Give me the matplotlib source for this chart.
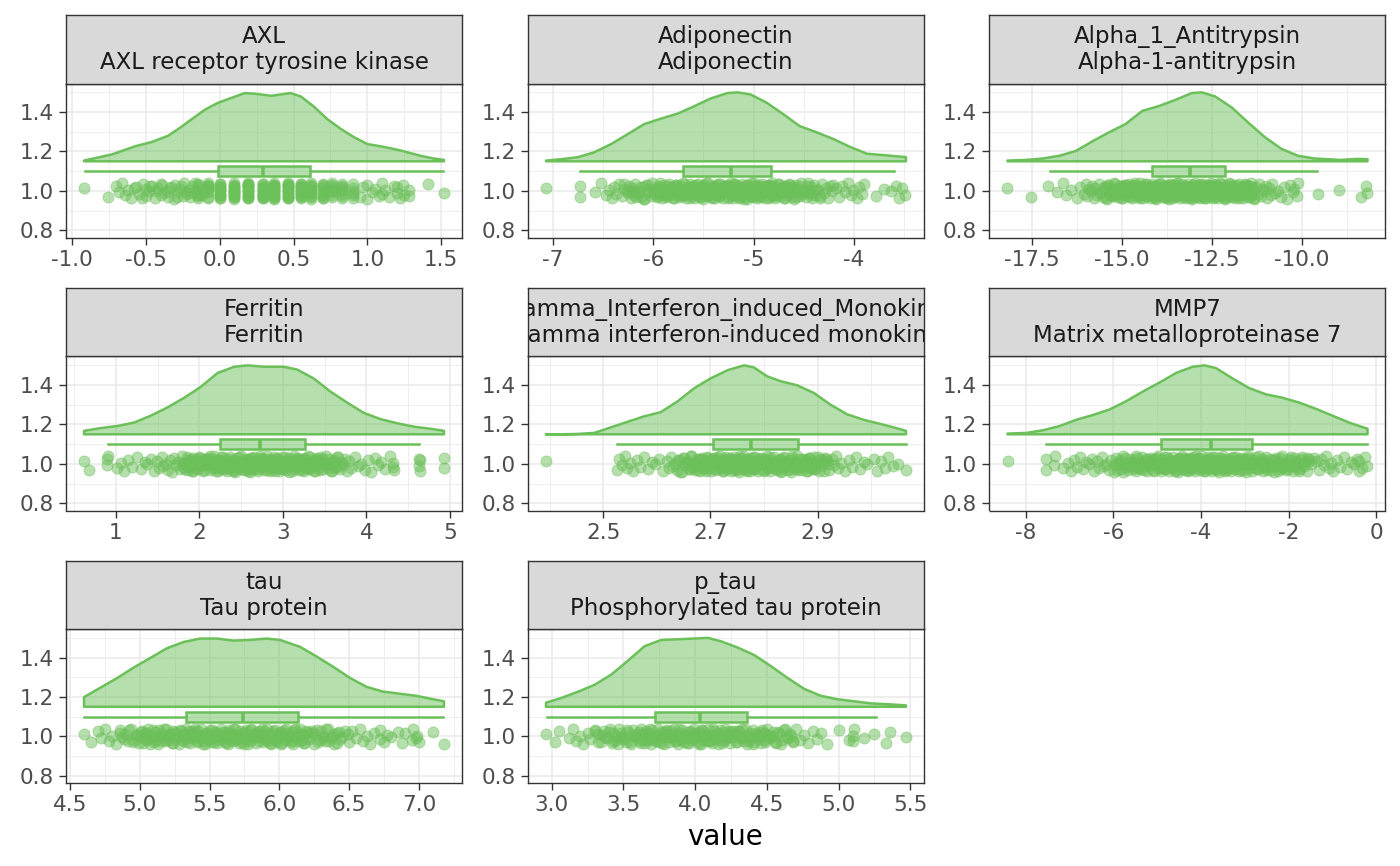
import matplotlib
matplotlib.use("Agg")
import matplotlib.pyplot as plt
from matplotlib.ticker import FixedLocator

plt.rcParams['font.family'] = ['DejaVu Sans']
plt.rcParams['axes.unicode_minus'] = False

# ---------------- data ----------------
TITLES = ["AXL", "Adiponectin", "Alpha_1_Antitrypsin", "Ferritin",
          "Gamma_Interferon_induced_Monokine", "MMP7", "tau", "p_tau"]
SUBTITLES = ["AXL receptor tyrosine kinase", "Adiponectin", "Alpha-1-antitrypsin",
             "Ferritin", "Gamma interferon-induced monokine",
             "Matrix metalloproteinase 7", "Tau protein", "Phosphorylated tau protein"]

# scaled density (0-1) of each half-violin
DENS_X_AXL = [-0.92, -0.73, -0.57, -0.46, -0.35, -0.28, -0.19, -0.10, -0.01, 0.08, 0.17, 0.24,
              0.35, 0.48, 0.55, 0.64, 0.73, 0.82, 0.91, 1.00, 1.11, 1.22, 1.36, 1.45, 1.52]
DENS_H_AXL = [0.01, 0.10, 0.22, 0.28, 0.37, 0.47, 0.61, 0.75, 0.85, 0.92, 0.99, 0.98,
              0.95, 0.99, 0.94, 0.79, 0.61, 0.47, 0.35, 0.25, 0.21, 0.16, 0.08, 0.04, 0.02]
DENS_X_ADIPO = [-7.07, -6.92, -6.75, -6.59, -6.42, -6.26, -6.09, -5.92, -5.76, -5.59, -5.43, -5.26,
                -5.16, -5.03, -4.87, -4.70, -4.54, -4.37, -4.20, -4.04, -3.87, -3.71, -3.48]
DENS_H_ADIPO = [0.01, 0.03, 0.06, 0.13, 0.25, 0.39, 0.54, 0.62, 0.69, 0.80, 0.91, 0.99,
                1.00, 0.97, 0.85, 0.68, 0.51, 0.42, 0.32, 0.21, 0.11, 0.09, 0.06]
DENS_X_A1AT = [-18.17, -17.65, -17.19, -16.73, -16.27, -15.81, -15.35, -14.89, -14.43, -13.97, -13.51,
               -13.05, -12.77, -12.40, -11.94, -11.48, -11.02, -10.56, -10.10, -9.64, -8.91, -8.45, -8.17]
DENS_H_A1AT = [0.01, 0.02, 0.04, 0.08, 0.15, 0.29, 0.42, 0.54, 0.73, 0.80, 0.89,
               0.99, 1.00, 0.94, 0.78, 0.56, 0.35, 0.18, 0.08, 0.04, 0.02, 0.035, 0.03]
DENS_X_FERR = [0.62, 0.82, 1.02, 1.22, 1.42, 1.62, 1.82, 2.02, 2.22, 2.42, 2.58, 2.77,
               3.01, 3.17, 3.37, 3.57, 3.77, 3.97, 4.17, 4.37, 4.57, 4.77, 4.93]
DENS_H_FERR = [0.05, 0.09, 0.12, 0.17, 0.27, 0.39, 0.53, 0.69, 0.89, 0.98, 1.00, 0.98,
               0.98, 0.94, 0.81, 0.62, 0.46, 0.31, 0.22, 0.16, 0.11, 0.08, 0.05]
DENS_X_MIG = [2.393, 2.421, 2.452, 2.483, 2.514, 2.545, 2.576, 2.607, 2.639, 2.670, 2.700, 2.732,
              2.763, 2.781, 2.806, 2.831, 2.862, 2.893, 2.924, 2.955, 2.986, 3.017, 3.042, 3.065]
DENS_H_MIG = [0.0, 0.0, 0.005, 0.02, 0.10, 0.18, 0.26, 0.32, 0.48, 0.67, 0.81, 0.93,
              1.00, 0.97, 0.84, 0.77, 0.71, 0.60, 0.43, 0.29, 0.21, 0.15, 0.10, 0.05]
DENS_X_MMP7 = [-8.42, -7.98, -7.60, -7.23, -6.85, -6.47, -6.09, -5.71, -5.33, -4.95, -4.57, -4.19,
               -3.92, -3.66, -3.28, -2.90, -2.52, -2.14, -1.76, -1.38, -1.00, -0.62, -0.20]
DENS_H_MMP7 = [0.01, 0.02, 0.06, 0.12, 0.21, 0.28, 0.36, 0.48, 0.62, 0.75, 0.89, 0.98,
               1.00, 0.96, 0.81, 0.67, 0.58, 0.53, 0.46, 0.37, 0.27, 0.17, 0.08]
DENS_X_TAU = [4.60, 4.72, 4.84, 4.957, 5.076, 5.195, 5.314, 5.433, 5.552, 5.671, 5.79, 5.91,
              6.005, 6.148, 6.267, 6.386, 6.505, 6.624, 6.743, 6.862, 6.98, 7.10, 7.18]
DENS_H_TAU = [0.14, 0.28, 0.42, 0.57, 0.71, 0.85, 0.94, 0.99, 0.99, 0.96, 0.97, 0.99,
              0.97, 0.87, 0.73, 0.58, 0.42, 0.29, 0.22, 0.19, 0.16, 0.11, 0.08]
DENS_X_PTAU = [2.96, 3.07, 3.185, 3.30, 3.417, 3.532, 3.648, 3.764, 3.88, 3.995, 4.088, 4.18,
               4.296, 4.412, 4.528, 4.643, 4.76, 4.875, 4.99, 5.106, 5.222, 5.36, 5.47]
DENS_H_PTAU = [0.06, 0.13, 0.22, 0.32, 0.47, 0.67, 0.88, 0.97, 0.98, 0.99, 1.00, 0.95,
               0.86, 0.75, 0.59, 0.42, 0.26, 0.16, 0.11, 0.08, 0.05, 0.035, 0.02]

# box plot statistics (whisker low, Q1, median, Q3, whisker high)
BOX_LOW = [-0.91, -6.73, -17.0, 0.91, 2.525, -7.53, 4.60, 2.97]
BOX_Q1 = [-0.01, -5.70, -14.15, 2.25, 2.704, -4.91, 5.333, 3.722]
BOX_MED = [0.29, -5.23, -13.09, 2.73, 2.776, -3.77, 5.743, 4.037]
BOX_Q3 = [0.615, -4.83, -12.13, 3.26, 2.863, -2.84, 6.136, 4.361]
BOX_HIGH = [1.515, -3.60, -9.57, 4.63, 3.065, -0.20, 7.171, 5.26]

# raw observations (rain)
PTS_AXL = [-0.92, -0.76, -0.70, -0.68, -0.66, -0.64, -0.62, -0.60, -0.57, -0.55, -0.52, -0.50,
           -0.50, -0.48, -0.46, -0.44, -0.42, -0.40, -0.40, -0.38, -0.36, -0.35, -0.33, -0.31,
           -0.30, -0.28, -0.27, -0.25, -0.24, -0.22, -0.21, -0.20, -0.19, -0.18,
           -0.15, -0.15, -0.15, -0.15, -0.15, -0.15, -0.15, -0.15,
           -0.08, -0.08, -0.08, -0.08, -0.08, -0.08, -0.08, -0.08, -0.08, -0.08,
           0.0, 0.0, 0.0, 0.0, 0.0, 0.0, 0.0, 0.0, 0.0, 0.0, 0.0, 0.0, 0.0, 0.0,
           0.1, 0.1, 0.1, 0.1, 0.1, 0.1, 0.1, 0.1, 0.1, 0.1, 0.1, 0.1, 0.1, 0.1, 0.1, 0.1,
           0.19, 0.19, 0.19, 0.19, 0.19, 0.19, 0.19, 0.19, 0.19, 0.19, 0.19, 0.19, 0.19, 0.19,
           0.19, 0.19, 0.19,
           0.29, 0.29, 0.29, 0.29, 0.29, 0.29, 0.29, 0.29, 0.29, 0.29, 0.29, 0.29, 0.29, 0.29,
           0.29, 0.29, 0.29,
           0.37, 0.37, 0.37, 0.37, 0.37, 0.37, 0.37, 0.37, 0.37, 0.37, 0.37, 0.37, 0.37, 0.37,
           0.37, 0.37, 0.37,
           0.46, 0.46, 0.46, 0.46, 0.46, 0.46, 0.46, 0.46, 0.46, 0.46, 0.46, 0.46, 0.46, 0.46,
           0.46, 0.46,
           0.55, 0.55, 0.55, 0.55, 0.55, 0.55, 0.55, 0.55, 0.55, 0.55, 0.55, 0.55, 0.55, 0.55, 0.55,
           0.62, 0.62, 0.62, 0.62, 0.62, 0.62, 0.62, 0.62, 0.62, 0.62, 0.62, 0.62,
           0.70, 0.70, 0.70, 0.70, 0.70, 0.70, 0.70, 0.70, 0.70, 0.70,
           0.76, 0.76, 0.76, 0.76, 0.76, 0.76, 0.76, 0.76, 0.76,
           0.83, 0.83, 0.83, 0.83, 0.83, 0.83, 0.83, 0.83,
           0.90, 0.90, 0.90, 0.90, 0.90, 0.90,
           0.95, 0.97, 1.0, 1.0, 1.03, 1.05, 1.08, 1.10, 1.10, 1.12, 1.15, 1.18, 1.20, 1.20, 1.22,
           1.24, 1.25, 1.28, 1.28, 1.41, 1.52,
           -0.58, -0.53, -0.47, -0.43, -0.39, -0.34, -0.29, -0.26, -0.23, -0.17, -0.12]
PTS_ADIPO = [-7.07, -6.73, -6.73,
             -6.58, -6.52, -6.47, -6.44, -6.41,
             -6.39, -6.37, -6.34, -6.31, -6.29, -6.26, -6.24, -6.22, -6.21,
             -6.19, -6.18, -6.16, -6.14, -6.12, -6.10, -6.09, -6.07, -6.05, -6.04, -6.02, -6.01,
             -5.99, -5.98, -5.96, -5.95, -5.94, -5.92, -5.91, -5.89, -5.88, -5.86, -5.85, -5.84,
             -5.82, -5.81, -5.80,
             -5.79, -5.78, -5.77, -5.76, -5.74, -5.73, -5.72, -5.70, -5.69, -5.68, -5.67, -5.65,
             -5.64, -5.63, -5.62, -5.61, -5.60,
             -5.59, -5.58, -5.57, -5.56, -5.55, -5.54, -5.53, -5.52, -5.51, -5.50, -5.49, -5.48,
             -5.47, -5.46, -5.45, -5.44, -5.43, -5.42, -5.41, -5.40,
             -5.39, -5.38, -5.37, -5.36, -5.35, -5.34, -5.33, -5.32, -5.31, -5.30, -5.29, -5.28,
             -5.27, -5.26, -5.25, -5.24, -5.23, -5.23, -5.22, -5.22, -5.21, -5.21, -5.20,
             -5.19, -5.18, -5.18, -5.17, -5.16, -5.15, -5.14, -5.13, -5.12, -5.11, -5.10, -5.09,
             -5.08, -5.07, -5.06, -5.05, -5.04, -5.03, -5.03, -5.02, -5.01, -5.01, -5.00,
             -4.99, -4.98, -4.97, -4.96, -4.95, -4.94, -4.93, -4.92, -4.91, -4.90, -4.89, -4.88,
             -4.87, -4.86, -4.85, -4.84, -4.83, -4.83, -4.82, -4.81, -4.80,
             -4.79, -4.78, -4.76, -4.75, -4.74, -4.73, -4.71, -4.70, -4.69, -4.68, -4.66, -4.65,
             -4.64, -4.63, -4.62, -4.61, -4.60,
             -4.59, -4.57, -4.56, -4.54, -4.53, -4.51, -4.49, -4.48, -4.46, -4.45, -4.43, -4.42, -4.40,
             -4.38, -4.36, -4.34, -4.32, -4.30, -4.28, -4.26, -4.24, -4.22, -4.21,
             -4.18, -4.15, -4.12, -4.09, -4.06, -4.03, -4.01,
             -3.97, -3.95, -3.92, -3.90,
             -3.78, -3.70, -3.63, -3.58, -3.55, -3.52, -3.49,
             -6.29, -6.25, -6.21, -6.17, -6.13, -6.09, -6.05,
             -5.995, -5.975, -5.955, -5.935, -5.915, -5.895, -5.875, -5.855, -5.835, -5.815,
             -5.795, -5.775, -5.755, -5.735, -5.715, -5.695, -5.675, -5.655, -5.635, -5.615,
             -5.595, -5.575, -5.555, -5.535, -5.515, -5.495, -5.475, -5.455, -5.435, -5.415,
             -5.395, -5.375, -5.355, -5.335, -5.315, -5.295, -5.275, -5.255, -5.235, -5.215,
             -5.195, -5.175, -5.155, -5.135, -5.115, -5.095, -5.075, -5.055, -5.035, -5.015,
             -4.995, -4.975, -4.955, -4.935, -4.915, -4.895, -4.875, -4.855, -4.835, -4.815,
             -4.795, -4.775, -4.755, -4.735, -4.715, -4.695, -4.675, -4.655, -4.635, -4.615,
             -4.58, -4.54, -4.50, -4.46, -4.42, -4.38, -4.34]
PTS_A1AT = [-18.17, -17.52, -17.05, -16.80, -16.62, -16.55, -16.40,
            -16.25, -16.15, -16.05, -16.00, -15.95, -15.90, -15.85, -15.82,
            -15.78, -15.73, -15.69, -15.64, -15.60, -15.55, -15.51, -15.46, -15.42, -15.37, -15.33,
            -15.29, -15.25, -15.22, -15.18, -15.15, -15.11, -15.08, -15.04, -15.00, -14.97, -14.93,
            -14.90, -14.86, -14.83,
            -14.79, -14.77, -14.74, -14.72, -14.69, -14.66, -14.64, -14.61, -14.58, -14.56, -14.53,
            -14.50, -14.48, -14.45, -14.42, -14.40, -14.37, -14.34, -14.32,
            -14.29, -14.27, -14.25, -14.22, -14.20, -14.18, -14.16, -14.13, -14.11, -14.09, -14.07,
            -14.04, -14.02, -14.00, -13.98, -13.95, -13.93, -13.91, -13.89, -13.86, -13.84, -13.82,
            -13.79, -13.77, -13.75, -13.73, -13.71, -13.69, -13.67, -13.65, -13.63, -13.61, -13.59,
            -13.57, -13.55, -13.53, -13.51, -13.49, -13.47, -13.45, -13.43, -13.41, -13.39, -13.37,
            -13.35, -13.32,
            -13.29, -13.27, -13.25, -13.23, -13.21, -13.19, -13.17, -13.15, -13.13, -13.11, -13.09,
            -13.07, -13.05, -13.03, -13.01, -12.99, -12.97, -12.95, -12.93, -12.91, -12.89, -12.87,
            -12.85, -12.83, -12.82, -12.81,
            -12.79, -12.77, -12.75, -12.73, -12.71, -12.69, -12.67, -12.65, -12.63, -12.61, -12.59,
            -12.57, -12.55, -12.53, -12.51, -12.49, -12.47, -12.45, -12.43, -12.41, -12.39, -12.37,
            -12.35, -12.33, -12.32, -12.31,
            -12.29, -12.27, -12.25, -12.22, -12.20, -12.18, -12.16, -12.13, -12.11, -12.09, -12.07,
            -12.04, -12.02, -12.00, -11.98, -11.95, -11.93, -11.91, -11.89, -11.86, -11.84, -11.82,
            -11.79, -11.76, -11.73, -11.70, -11.67, -11.64, -11.61, -11.58, -11.55, -11.52, -11.49,
            -11.46, -11.43, -11.40, -11.37, -11.34, -11.31,
            -11.27, -11.22, -11.18, -11.13, -11.09, -11.04, -11.00, -10.95, -10.91, -10.86, -10.82,
            -10.75, -10.66, -10.57, -10.48, -10.40, -10.32,
            -10.25, -10.20, -10.14, -10.10,
            -9.55, -8.95, -8.35, -8.20, -8.17,
            -15.48, -15.43, -15.38, -15.33, -15.28, -15.23, -15.18, -15.13, -15.08, -15.03,
            -14.98, -14.93, -14.88, -14.83, -14.78, -14.73, -14.68, -14.63, -14.58, -14.53,
            -14.48, -14.43, -14.38, -14.33, -14.28, -14.23, -14.18, -14.13, -14.08, -14.03,
            -13.98, -13.93, -13.88, -13.83, -13.78, -13.73, -13.68, -13.63, -13.58, -13.53,
            -13.48, -13.43, -13.38, -13.33, -13.28, -13.23, -13.18, -13.13, -13.08, -13.03,
            -12.98, -12.93, -12.88, -12.83, -12.78, -12.73, -12.68, -12.63, -12.58, -12.53,
            -12.48, -12.43, -12.38, -12.33, -12.28, -12.23, -12.18, -12.13, -12.08, -12.03,
            -11.98, -11.93, -11.88, -11.83, -11.78, -11.73, -11.68, -11.63, -11.58, -11.53,
            -11.48, -11.43, -11.38, -11.33]
PTS_FERR = [0.62, 0.68, 0.90, 0.90, 0.91, 1.02, 1.06, 1.10, 1.15, 1.20, 1.25, 1.30, 1.35, 1.38, 1.42,
            1.46, 1.49, 1.52, 1.55, 1.57, 1.60, 1.62, 1.65, 1.67, 1.70, 1.72, 1.75, 1.77, 1.79,
            1.81, 1.83, 1.85, 1.86, 1.88, 1.90, 1.91, 1.93, 1.95, 1.96, 1.98, 2.00, 2.01, 2.03,
            2.05, 2.06, 2.08, 2.10, 2.11, 2.13, 2.15, 2.16, 2.18, 2.19,
            2.21, 2.22, 2.23, 2.25, 2.26, 2.27, 2.29, 2.30, 2.31, 2.33, 2.34, 2.35, 2.37, 2.38,
            2.39, 2.41, 2.42, 2.43, 2.45, 2.46, 2.47, 2.49, 2.50, 2.51, 2.53, 2.54, 2.55, 2.57,
            2.58, 2.59,
            2.61, 2.62, 2.63, 2.65, 2.66, 2.67, 2.69, 2.70, 2.71, 2.73, 2.74, 2.75, 2.77, 2.78,
            2.79, 2.81, 2.82, 2.83, 2.85, 2.86, 2.87, 2.89, 2.90, 2.91, 2.93, 2.94, 2.95, 2.97,
            2.98, 2.99,
            3.01, 3.02, 3.04, 3.05, 3.07, 3.08, 3.10, 3.11, 3.13, 3.14, 3.16, 3.17, 3.19, 3.20,
            3.22, 3.23, 3.25, 3.26, 3.28, 3.29, 3.31, 3.32, 3.34, 3.35, 3.37, 3.38, 3.39,
            3.41, 3.43, 3.45, 3.47, 3.50, 3.52, 3.54, 3.56, 3.59, 3.61, 3.63, 3.65, 3.68, 3.70,
            3.72, 3.74, 3.77, 3.79,
            3.82, 3.86, 3.90, 3.94, 3.98, 4.02, 4.06, 4.10, 4.14, 4.18,
            4.22, 4.28, 4.32, 4.32, 4.33, 4.63, 4.63, 4.64, 4.64, 4.93, 4.93,
            1.805, 1.830, 1.855, 1.880, 1.905, 1.930, 1.955, 1.980, 2.005, 2.030, 2.055, 2.080,
            2.105, 2.130, 2.155, 2.180, 2.205, 2.230, 2.255, 2.280, 2.305, 2.330, 2.355, 2.380,
            2.405, 2.430, 2.455, 2.480, 2.505, 2.530, 2.555, 2.580, 2.605, 2.630, 2.655, 2.680,
            2.705, 2.730, 2.755, 2.780, 2.805, 2.830, 2.855, 2.880, 2.905, 2.930, 2.955, 2.980,
            3.005, 3.030, 3.055, 3.080, 3.105, 3.130, 3.155, 3.180, 3.205, 3.230, 3.255, 3.280,
            3.305, 3.330, 3.355, 3.380, 3.405, 3.430, 3.455, 3.480, 3.505, 3.530, 3.555, 3.580,
            3.605, 3.630, 3.655, 3.680]
PTS_MIG = [2.393, 2.525, 2.530, 2.535, 2.540, 2.545, 2.550,
           2.555, 2.562, 2.569, 2.576, 2.583, 2.590, 2.597, 2.604, 2.611, 2.618,
           2.622, 2.626, 2.630, 2.634, 2.638, 2.642, 2.646, 2.650, 2.654, 2.658,
           2.661, 2.664, 2.666, 2.669, 2.671, 2.674, 2.676, 2.679, 2.681, 2.684, 2.686, 2.689,
           2.691, 2.694, 2.696, 2.699,
           2.701, 2.703, 2.705, 2.707, 2.709, 2.711, 2.713, 2.715, 2.717, 2.719, 2.721, 2.723,
           2.725, 2.727, 2.729, 2.731, 2.733, 2.735, 2.737, 2.739,
           2.741, 2.743, 2.744, 2.746, 2.748, 2.750, 2.751, 2.753, 2.755, 2.757, 2.758, 2.760,
           2.762, 2.764, 2.765, 2.767, 2.769, 2.771, 2.772, 2.774, 2.776, 2.778, 2.779,
           2.781, 2.783, 2.785, 2.787, 2.789, 2.791, 2.793, 2.795, 2.797, 2.799, 2.801, 2.803,
           2.805, 2.807, 2.809, 2.811, 2.813, 2.815, 2.818,
           2.822, 2.824, 2.827, 2.829, 2.831, 2.834, 2.836, 2.838, 2.841, 2.843, 2.845, 2.848,
           2.850, 2.852, 2.855, 2.857, 2.859,
           2.862, 2.865, 2.867, 2.870, 2.872, 2.875, 2.878, 2.880, 2.883, 2.886, 2.888, 2.891,
           2.893, 2.896, 2.898,
           2.902, 2.906, 2.910, 2.914, 2.918, 2.922, 2.926, 2.930, 2.934, 2.938,
           2.944, 2.951, 2.958, 2.965, 2.972, 2.979, 2.986, 2.993,
           3.005, 3.010, 3.018, 3.025, 3.032, 3.040, 3.050, 3.065,
           2.640, 2.644, 2.648, 2.652, 2.656, 2.660, 2.664, 2.668, 2.672, 2.676, 2.680, 2.684,
           2.688, 2.692, 2.696, 2.700, 2.704, 2.708, 2.712, 2.716, 2.720, 2.724, 2.728, 2.732,
           2.736, 2.740, 2.744, 2.748, 2.752, 2.756, 2.760, 2.764, 2.768, 2.772, 2.776, 2.780,
           2.784, 2.788, 2.792, 2.796, 2.800, 2.804, 2.808, 2.812, 2.816, 2.820, 2.824, 2.828,
           2.832, 2.836, 2.840, 2.844, 2.848, 2.852, 2.856, 2.860, 2.864, 2.868, 2.872, 2.876,
           2.880, 2.884, 2.888, 2.892, 2.896, 2.900, 2.904, 2.908, 2.912, 2.916, 2.920]
PTS_MMP7 = [-8.42, -7.55, -7.55, -7.35, -7.33, -7.15, -7.05,
            -6.98, -6.91, -6.84, -6.77, -6.70, -6.63, -6.56,
            -6.49, -6.44, -6.38, -6.33, -6.27, -6.22, -6.16, -6.11, -6.05,
            -5.99, -5.95, -5.91, -5.87, -5.83, -5.79, -5.74, -5.70, -5.66, -5.62, -5.58, -5.54,
            -5.49, -5.46, -5.43, -5.40, -5.37, -5.34, -5.31, -5.28, -5.24, -5.21, -5.18, -5.15,
            -5.12, -5.09, -5.06, -5.03,
            -4.99, -4.97, -4.94, -4.92, -4.89, -4.87, -4.85, -4.82, -4.80, -4.77, -4.75, -4.73,
            -4.70, -4.68, -4.65, -4.63, -4.61, -4.58, -4.56, -4.53, -4.51,
            -4.49, -4.47, -4.45, -4.43, -4.41, -4.39, -4.37, -4.35, -4.33, -4.31, -4.29, -4.27,
            -4.25, -4.23, -4.21, -4.19, -4.17, -4.15, -4.13, -4.11, -4.09, -4.07, -4.05, -4.03, -4.01,
            -3.99, -3.97, -3.95, -3.93, -3.91, -3.89, -3.87, -3.85, -3.83, -3.81, -3.79, -3.77,
            -3.75, -3.73, -3.71, -3.69, -3.67, -3.65, -3.63, -3.61, -3.59, -3.57, -3.55, -3.53, -3.51,
            -3.49, -3.47, -3.44, -3.42, -3.39, -3.37, -3.35, -3.32, -3.30, -3.27, -3.25, -3.23,
            -3.20, -3.18, -3.15, -3.13, -3.11, -3.08, -3.06, -3.03, -3.01,
            -2.98, -2.95, -2.92, -2.89, -2.86, -2.83, -2.80, -2.77, -2.74, -2.71, -2.68, -2.65,
            -2.62, -2.59, -2.56, -2.53, -2.51,
            -2.48, -2.44, -2.41, -2.37, -2.34, -2.30, -2.27, -2.23, -2.20, -2.16, -2.13, -2.09,
            -2.06, -2.02,
            -1.98, -1.94, -1.90, -1.86, -1.82, -1.78, -1.73, -1.69, -1.65, -1.61, -1.57, -1.53,
            -1.48, -1.42, -1.37, -1.31, -1.26, -1.20, -1.15, -1.09, -1.04,
            -0.98, -0.90, -0.82, -0.74, -0.66, -0.58,
            -0.50, -0.45, -0.40, -0.40, -0.32, -0.25, -0.20,
            -5.97, -5.91, -5.85, -5.79, -5.73, -5.67, -5.61, -5.55, -5.49, -5.43, -5.37, -5.31,
            -5.25, -5.19, -5.13, -5.07, -5.01, -4.95, -4.89, -4.83, -4.77, -4.71, -4.65, -4.59,
            -4.53, -4.47, -4.41, -4.35, -4.29, -4.23, -4.17, -4.11, -4.05, -3.99, -3.93, -3.87,
            -3.81, -3.75, -3.69, -3.63, -3.57, -3.51, -3.45, -3.39, -3.33, -3.27, -3.21, -3.15,
            -3.09, -3.03, -2.97, -2.91, -2.85, -2.79, -2.73, -2.67, -2.61, -2.55, -2.49, -2.43,
            -2.37, -2.31, -2.25, -2.19, -2.13, -2.07, -2.01, -1.95, -1.89, -1.83, -1.77, -1.71,
            -1.65, -1.59, -1.53]
PTS_TAU = [4.60, 4.65, 4.70,
           4.72, 4.75, 4.78, 4.80, 4.83, 4.86, 4.89, 4.92, 4.95, 4.98,
           5.00, 5.01, 5.02, 5.04, 5.05, 5.06, 5.08, 5.09, 5.10, 5.11, 5.13, 5.14, 5.15, 5.16,
           5.18, 5.19, 5.20, 5.21, 5.23, 5.24, 5.25, 5.26, 5.28, 5.29,
           5.30, 5.31, 5.32, 5.33, 5.34, 5.35, 5.36, 5.37, 5.38, 5.39, 5.40, 5.41, 5.42, 5.43,
           5.44, 5.45, 5.46, 5.47, 5.48, 5.49, 5.50, 5.51, 5.52, 5.53, 5.54, 5.55, 5.56, 5.57,
           5.58, 5.59, 5.60, 5.61, 5.62, 5.63, 5.64, 5.65, 5.66, 5.67, 5.68, 5.69, 5.70, 5.71,
           5.72, 5.73, 5.74, 5.75, 5.76, 5.77, 5.78, 5.79, 5.80, 5.81, 5.82, 5.83, 5.84, 5.85,
           5.86, 5.87, 5.88, 5.89, 5.90, 5.91, 5.92, 5.93, 5.94, 5.95, 5.96, 5.97, 5.98, 5.99,
           6.00, 6.01, 6.02, 6.03, 6.04, 6.05, 6.06, 6.07, 6.08, 6.09, 6.10, 6.11, 6.12, 6.13,
           6.14, 6.15, 6.16, 6.17, 6.18, 6.19,
           6.21, 6.23, 6.25, 6.27, 6.29, 6.31, 6.33, 6.35, 6.37, 6.39, 6.41, 6.43, 6.45, 6.47, 6.49,
           6.50, 6.52, 6.55, 6.58, 6.60, 6.63, 6.65, 6.68, 6.72, 6.72, 6.75, 6.77, 6.80, 6.85,
           6.88, 6.90, 6.95, 6.96, 6.98, 6.99, 7.00, 7.10, 7.18,
           4.855, 4.875, 4.895, 4.915, 4.935, 4.955, 4.975, 4.995, 5.015, 5.035, 5.055, 5.075,
           5.095, 5.115, 5.135, 5.155, 5.175, 5.195, 5.215, 5.235, 5.255, 5.275, 5.295, 5.315,
           5.335, 5.355, 5.375, 5.395, 5.415, 5.435, 5.455, 5.475, 5.495, 5.515, 5.535, 5.555,
           5.575, 5.595, 5.615, 5.635, 5.655, 5.675, 5.695, 5.715, 5.735, 5.755, 5.775, 5.795,
           5.815, 5.835, 5.855, 5.875, 5.895, 5.915, 5.935, 5.955, 5.975, 5.995, 6.015, 6.035,
           6.055, 6.075, 6.095, 6.115, 6.135, 6.155, 6.175, 6.195, 6.215, 6.235, 6.255, 6.275,
           6.295, 6.315, 6.335, 6.355, 6.375, 6.395, 6.415, 6.435]
PTS_PTAU = [2.96, 3.02, 3.05, 3.12,
            3.15, 3.17, 3.20, 3.22, 3.25, 3.27, 3.30, 3.32, 3.35, 3.37,
            3.40, 3.42, 3.43, 3.45, 3.47, 3.48, 3.50, 3.52, 3.53, 3.55, 3.57, 3.58,
            3.60, 3.61, 3.62, 3.63, 3.64, 3.65, 3.66, 3.67, 3.68, 3.69, 3.70, 3.71, 3.72, 3.73,
            3.74, 3.75, 3.76, 3.77, 3.78, 3.79, 3.80, 3.81, 3.82, 3.83, 3.84, 3.85, 3.86, 3.87,
            3.88, 3.89, 3.90, 3.91, 3.92, 3.93, 3.94, 3.95, 3.96, 3.97, 3.98, 3.99, 4.00, 4.01,
            4.02, 4.03, 4.04, 4.05, 4.06, 4.07, 4.08, 4.09, 4.10, 4.11, 4.12, 4.13, 4.14, 4.15,
            4.16, 4.17, 4.18, 4.19, 4.20, 4.21, 4.22, 4.23, 4.24, 4.25, 4.26, 4.27, 4.28, 4.29,
            4.30, 4.31, 4.33, 4.34, 4.35, 4.36, 4.38, 4.39, 4.40, 4.41, 4.43, 4.44, 4.45, 4.46,
            4.48, 4.49,
            4.50, 4.52, 4.54, 4.56, 4.58, 4.60, 4.62, 4.64, 4.66, 4.68,
            4.70, 4.73, 4.76, 4.79, 4.82, 4.85, 4.88, 4.92,
            5.00, 5.07, 5.10, 5.10, 5.11, 5.18, 5.25, 5.33, 5.36, 5.47,
            3.305, 3.325, 3.345, 3.365, 3.385, 3.405, 3.425, 3.445, 3.465, 3.485, 3.505, 3.525,
            3.545, 3.565, 3.585, 3.605, 3.625, 3.645, 3.665, 3.685, 3.705, 3.725, 3.745, 3.765,
            3.785, 3.805, 3.825, 3.845, 3.865, 3.885, 3.905, 3.925, 3.945, 3.965, 3.985, 4.005,
            4.025, 4.045, 4.065, 4.085, 4.105, 4.125, 4.145, 4.165, 4.185, 4.205, 4.225, 4.245,
            4.265, 4.285, 4.305, 4.325, 4.345, 4.365, 4.385, 4.405, 4.425, 4.445, 4.465, 4.485,
            4.505, 4.525, 4.545, 4.565, 4.585, 4.605, 4.625, 4.645, 4.665, 4.685]

# x-axis ticks and labels per facet
XTICKS = [[-1.0, -0.5, 0.0, 0.5, 1.0, 1.5], [-7, -6, -5, -4], [-17.5, -15.0, -12.5, -10.0],
          [1, 2, 3, 4, 5], [2.5, 2.7, 2.9], [-8, -6, -4, -2, 0],
          [4.5, 5.0, 5.5, 6.0, 6.5, 7.0], [3.0, 3.5, 4.0, 4.5, 5.0, 5.5]]
XTICKLABELS = [["-1.0", "-0.5", "0.0", "0.5", "1.0", "1.5"], ["-7", "-6", "-5", "-4"],
               ["-17.5", "-15.0", "-12.5", "-10.0"], ["1", "2", "3", "4", "5"],
               ["2.5", "2.7", "2.9"], ["-8", "-6", "-4", "-2", "0"],
               ["4.5", "5.0", "5.5", "6.0", "6.5", "7.0"],
               ["3.0", "3.5", "4.0", "4.5", "5.0", "5.5"]]
YTICKS = [0.8, 1.0, 1.2, 1.4]
YTICKLABELS = ["0.8", "1.0", "1.2", "1.4"]

DENS_X = [DENS_X_AXL, DENS_X_ADIPO, DENS_X_A1AT, DENS_X_FERR, DENS_X_MIG, DENS_X_MMP7, DENS_X_TAU, DENS_X_PTAU]
DENS_H = [DENS_H_AXL, DENS_H_ADIPO, DENS_H_A1AT, DENS_H_FERR, DENS_H_MIG, DENS_H_MMP7, DENS_H_TAU, DENS_H_PTAU]
POINTS = [PTS_AXL, PTS_ADIPO, PTS_A1AT, PTS_FERR, PTS_MIG, PTS_MMP7, PTS_TAU, PTS_PTAU]

# ---------------- style / layout ----------------
GREEN = "#6CC05A"
GREEN_RGB = matplotlib.colors.to_rgb(GREEN)
FILL = GREEN_RGB + (0.5,)
# vertical spread used to display the observations (position only)
JITTER = [0.012, -0.031, 0.027, -0.008, 0.039, -0.022, 0.004, -0.037, 0.019, -0.015, 0.033,
          -0.027, 0.008, -0.002, 0.024, -0.035, 0.015, -0.019, 0.036, -0.011, 0.001, -0.029,
          0.021, -0.039, 0.030, -0.005, 0.010, -0.024, 0.038, -0.017, 0.006, -0.033, 0.026,
          -0.013, 0.017, -0.038, 0.032, -0.021, 0.003, -0.026, 0.035, -0.009, 0.014, -0.034,
          0.022, -0.001, 0.029]
BASE = 1.15
SCALE = 0.35
BOX_POS = 1.1
BOX_W = 0.05
LW = 1.8

W, H = 1400, 866
fig = plt.figure(figsize=(14, 8.66), dpi=100)
col_left = [66, 528, 989.5]
pw = 396
row_top = [15, 288, 560.5]
sh = 68.5
ph = 154

for i in range(8):
    r, c = divmod(i, 3)
    x0 = col_left[c]
    y0 = row_top[r]
    ax = fig.add_axes([x0 / W, 1 - (y0 + sh + ph) / H, pw / W, ph / H])
    sax = fig.add_axes([x0 / W, 1 - (y0 + sh) / H, pw / W, sh / H])

    # strip
    sax.set_facecolor("#D9D9D9")
    sax.set_xticks([])
    sax.set_yticks([])
    for s in sax.spines.values():
        s.set_color("#333333")
        s.set_linewidth(1.0)
    sax.text(0.5, 0.683, TITLES[i], ha="center", va="center", fontsize=16.5,
             color="#1A1A1A", transform=sax.transAxes, clip_on=True)
    sax.text(0.5, 0.304, SUBTITLES[i], ha="center", va="center", fontsize=16.5,
             color="#1A1A1A", transform=sax.transAxes, clip_on=True)

    dx = DENS_X[i]
    dh = DENS_H[i]
    pts = POINTS[i]

    # half violin (cloud)
    verts_x = [dx[0]] + list(dx) + [dx[-1]]
    verts_y = [BASE] + [BASE + SCALE * h for h in dh] + [BASE]
    ax.fill(verts_x, verts_y, facecolor=FILL, edgecolor=GREEN, linewidth=LW,
            joinstyle="round", zorder=2)

    # box plot
    stats = [dict(whislo=BOX_LOW[i], q1=BOX_Q1[i], med=BOX_MED[i], q3=BOX_Q3[i],
                  whishi=BOX_HIGH[i], fliers=[])]
    ax.bxp(stats, positions=[BOX_POS], widths=BOX_W, orientation="horizontal",
           showcaps=False, showfliers=False, patch_artist=True, manage_ticks=False,
           boxprops=dict(facecolor=FILL, edgecolor=GREEN, linewidth=LW),
           whiskerprops=dict(color=GREEN, linewidth=LW),
           medianprops=dict(color=GREEN, linewidth=2.6), zorder=3)

    # rain
    ys = [1 + JITTER[k % len(JITTER)] for k in range(len(pts))]
    ax.scatter(pts, ys, s=64, facecolor=FILL, edgecolor=FILL, linewidths=0.6, zorder=4)

    # axes limits
    lo = min(min(dx), min(pts), BOX_LOW[i])
    hi = max(max(dx), max(pts), BOX_HIGH[i])
    pad = 0.05 * (hi - lo)
    ax.set_xlim(lo - pad, hi + pad)
    ax.set_ylim(0.763, 1.545)

    xt = XTICKS[i]
    step = xt[1] - xt[0]
    minors = [xt[0] - step / 2] + [t + step / 2 for t in xt]
    minors = [m for m in minors if lo - pad <= m <= hi + pad]
    ax.xaxis.set_major_locator(FixedLocator(xt))
    ax.set_xticklabels(XTICKLABELS[i])
    ax.xaxis.set_minor_locator(FixedLocator(minors))
    ax.yaxis.set_major_locator(FixedLocator(YTICKS))
    ax.set_yticklabels(YTICKLABELS)
    ax.yaxis.set_minor_locator(FixedLocator([0.9, 1.1, 1.3, 1.5]))

    ax.set_axisbelow(True)
    ax.grid(which="major", color="#EBEBEB", linewidth=1.2)
    ax.grid(which="minor", color="#EBEBEB", linewidth=0.6)
    ax.set_facecolor("white")
    for s in ax.spines.values():
        s.set_color("#333333")
        s.set_linewidth(1.0)
    ax.tick_params(which="major", length=4.8, width=1.0, color="#333333",
                   labelsize=15.5, labelcolor="#4D4D4D", pad=4)
    ax.tick_params(which="minor", length=0)

fig.text(725.5 / W, 1 - 836.7 / H, "value", ha="center", va="center", fontsize=20, color="black")

fig.savefig("out.png", dpi=100, facecolor="white")
